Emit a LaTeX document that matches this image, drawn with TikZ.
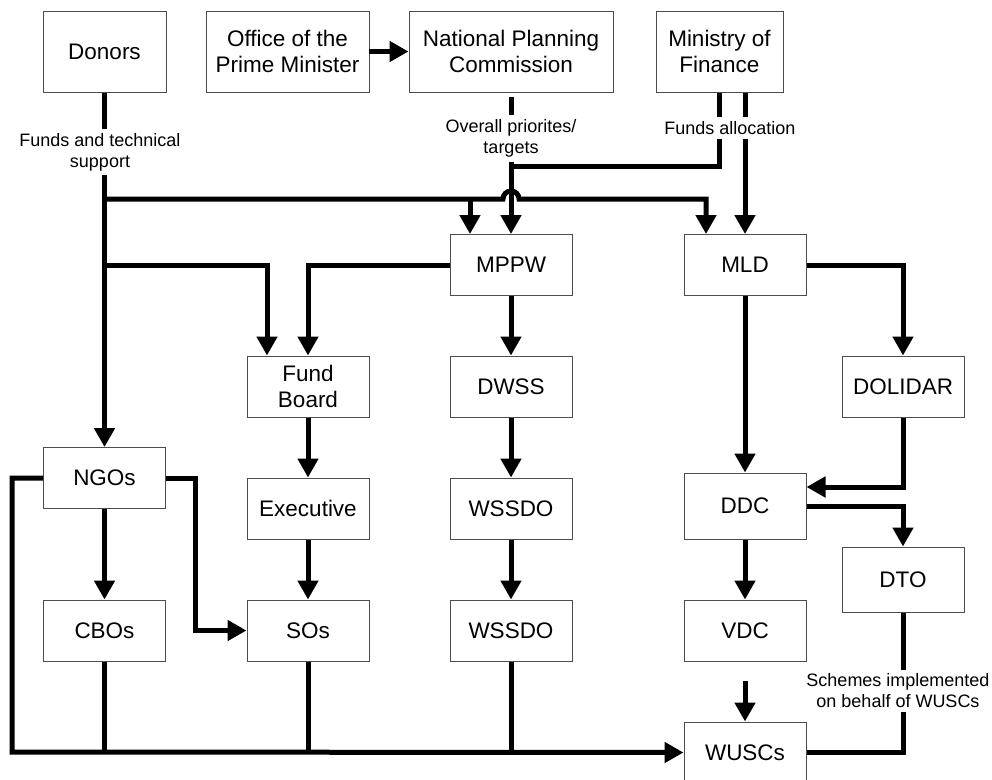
\documentclass[tikz,border=0pt]{standalone}
\usepackage{fontspec}
\setmainfont{Liberation Sans}
\usetikzlibrary{arrows.meta}
\usetikzlibrary{calc}

\begin{document}
\begin{tikzpicture}[x=0.25mm,y=-0.25mm,
    box/.style={draw=black!70,line width=0.7pt,rectangle,inner sep=0mm,align=center,
                minimum width=30.5mm,minimum height=15.25mm,font=\fontsize{16}{19}\selectfont},
    note/.style={inner sep=1mm,align=center,font=\fontsize{12.8}{15}\selectfont},
    flow/.style={line width=1.25mm},
    >={Triangle[width=5mm,length=4.75mm]}]
          \useasboundingbox (0,0) rectangle (992,779);
          \clip (0,0) rectangle (992,779);
          \node (donors) [box,minimum width=30.75mm,minimum height=20.25mm] at (104.5,51.5) {Donors};
          \node (office) [box,minimum width=40.75mm,minimum height=20.25mm] at (287.5,51.5) {Office of the\\Prime Minister};
          \node (npc) [box,minimum width=51mm,minimum height=20.25mm] at (511,51.5) {National Planning\\Commission};
          \node (mof) [box,minimum width=31.75mm,minimum height=20.25mm] at (719.5,51.5) {Ministry of\\Finance};
          \node (mppw) [box] at (511,265) {MPPW};
          \node (mld) [box] at (745,265) {MLD};
          \node (fundboard) [box] at (308,386.5) {Fund\\Board};
          \node (dwss) [box] at (511,386.5) {DWSS};
          \node (dolidar) [box] at (903,386.5) {DOLIDAR};
          \node (ngos) [box] at (104.5,478) {NGOs};
          \node (executive) [box] at (308,508.5) {Executive};
          \node (wssdoA) [box] at (511,508.5) {WSSDO};
          \node (ddc) [box,minimum height=16.5mm] at (745,506) {DDC};
          \node (dto) [box,minimum height=16.25mm] at (903,579.5) {DTO};
          \node (cbos) [box] at (104.5,630.5) {CBOs};
          \node (sos) [box] at (308,630.5) {SOs};
          \node (wssdoB) [box] at (511,630.5) {WSSDO};
          \node (vdc) [box] at (745,630.5) {VDC};
          \node (wuscs) [box] at (745,752.5) {WUSCs};
          \node (fundsnote) [note] at (100,152) {Funds and technical\\support};
          \node (priornote) [note] at (511,138.5) {Overall priorites/\\targets};
          \node (allocnote) [note] at (730,128) {Funds allocation};
          \node (schemesnote) [note] at (898,691) {Schemes implemented\\on behalf of WUSCs};
          \coordinate (fundsline) at (104.5,199);
          \coordinate (hop) at (511,199);
          \coordinate (priorjoin) at (511,166);
          \coordinate (rail) at (12,752);
          \draw [flow,->] (office.east) to (npc.west);
          \draw [flow] (donors.south) to (donors.south |- fundsnote.north);
          \draw [flow,->] (donors.south |- fundsnote.south) to (ngos.north);
          \draw [flow,->] (fundsline) -- ($(hop)-(8,0)$) arc [start angle=180,end angle=0,radius=2mm]
                -- (fundsline -| {$(mld.north)+(-39,0)$}) -- ($(mld.north)+(-39,0)$);
          \draw [flow,->] (fundsline -| {$(mppw.north)+(-41,0)$}) to ($(mppw.north)+(-41,0)$);
          \draw [flow,->] (donors.south |- mppw.west) -| ($(fundboard.north)+(-41,0)$);
          \draw [flow,->] (mppw.west) -| (fundboard.north);
          \draw [flow] ($(npc.south)+(0,4)$) to (npc.south |- priornote.north);
          \draw [flow,->] (npc.south |- priornote.south) to (mppw.north);
          \draw [flow] (mof.south) to (mof.south |- allocnote.north);
          \draw [flow] (mof.south |- allocnote.south) |- (priorjoin);
          \draw [flow] (mof.south -| mld.north) to (allocnote.north -| mld.north);
          \draw [flow,->] (allocnote.south -| mld.north) to (mld.north);
          \draw [flow,->] (mppw.south) to (dwss.north);
          \draw [flow,->] (dwss.south) to (wssdoA.north);
          \draw [flow,->] (wssdoA.south) to (wssdoB.north);
          \draw [flow,->] (mld.south) to (ddc.north);
          \draw [flow,->] (mld.east) -| (dolidar.north);
          \draw [flow,->] (dolidar.south) |- ($(ddc.east)+(0,-19)$);
          \draw [flow,->] (ddc.east) -| (dto.north);
          \draw [flow,->] (ddc.south) to (vdc.north);
          \draw [flow,->,shorten <=4.75mm] (vdc.south) to (wuscs.north);
          \draw [flow] (dto.south) to (dto.south |- schemesnote.north);
          \draw [flow] (dto.south |- schemesnote.south) |- (wuscs.east);
          \draw [flow,->] (ngos.west) -| (rail) -- (wuscs.west);
          \draw [flow,->] (ngos.south) to (cbos.north);
          \draw [flow,->] (ngos.east) -- ++(30,0) |- (sos.west);
          \draw [flow,->] (fundboard.south) to (executive.north);
          \draw [flow,->] (executive.south) to (sos.north);
          \draw [flow] (cbos.south) to (cbos.south |- rail);
          \draw [flow] (sos.south) to (sos.south |- rail);
          \draw [flow] (wssdoB.south) to (wssdoB.south |- rail);
        \end{tikzpicture}
\end{document}
